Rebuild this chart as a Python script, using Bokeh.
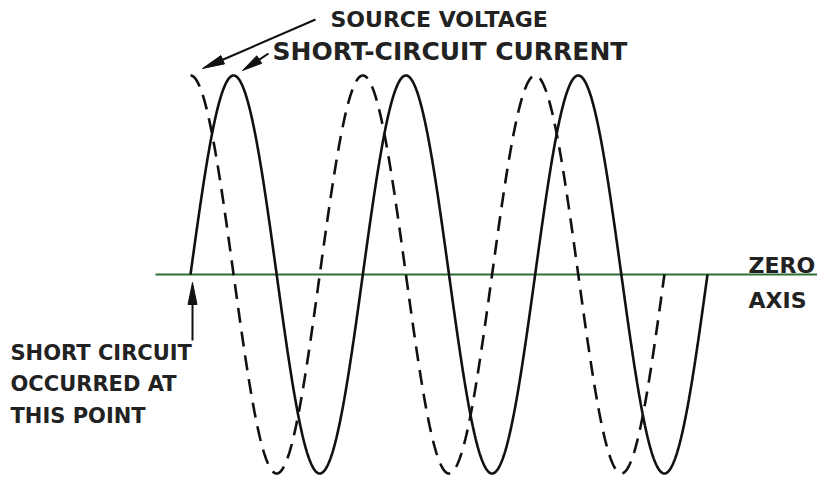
import numpy as np
from bokeh.plotting import figure
from bokeh.models import Range1d, Label
from bokeh.embed import file_html
from bokeh.resources import INLINE

# ---- data (schematic waveforms) ----
cycles_current = 3.0          # short-circuit current runs 3 full cycles
cycles_voltage = 2.75         # source voltage ends on its zero crossing
current_amplitude = 1.0
voltage_amplitude = 1.0
voltage_lead_deg = 90.0       # voltage leads current by a quarter cycle
labels_top = ["SOURCE  VOLTAGE", "SHORT-CIRCUIT  CURRENT"]
labels_axis = ["ZERO", "AXIS"]
labels_left = ["SHORT  CIRCUIT", "OCCURRED AT", "THIS  POINT"]

t_cur = np.linspace(0, 360 * cycles_current, 721)
i_cur = current_amplitude * np.sin(np.radians(t_cur))
t_vol = np.linspace(0, 360 * cycles_voltage, 661)
v_vol = voltage_amplitude * np.sin(np.radians(t_vol + voltage_lead_deg))

# ---- layout ----
W, H = 817, 475
K = 0.4787          # px per degree
A = 199.0           # px per unit amplitude
ZX, ZY = 190, 274   # pixel position of the short-circuit instant on the zero axis
x0 = -ZX / K
y_top = ZY / A

def X(px):
    return (px - ZX) / K

def Y(py):
    return (ZY - py) / A

p = figure(width=W, height=H, output_backend="svg", toolbar_location=None,
           x_range=Range1d(x0, x0 + W / K), y_range=Range1d(y_top - H / A, y_top),
           min_border=0, min_border_left=0, min_border_right=0,
           min_border_top=0, min_border_bottom=0)
p.axis.visible = False
p.grid.visible = False
p.outline_line_color = None
p.background_fill_color = "white"
p.border_fill_color = "white"

ink = "#111111"

# zero axis
p.segment(x0=[X(155)], y0=[0], x1=[X(840)], y1=[0], line_color="#2f6e35", line_width=2.2)

# waveforms
p.line(t_vol, v_vol, line_color=ink, line_width=2.6, line_dash="15 9")
p.line(t_cur, i_cur, line_color=ink, line_width=2.6)

def arrow(px0, py0, px1, py1, head_len=22, head_w=9):
    d = np.array([px1 - px0, py1 - py0], dtype=float)
    L = np.hypot(*d)
    u = d / L
    n = np.array([-u[1], u[0]])
    base = np.array([px1, py1]) - u * head_len
    p.line([X(px0), X(base[0])], [Y(py0), Y(base[1])], line_color=ink, line_width=2)
    pts = [np.array([px1, py1]), base + n * head_w / 2, base - n * head_w / 2]
    p.patch([X(q[0]) for q in pts], [Y(q[1]) for q in pts], fill_color=ink, line_color=ink)

arrow(315, 19, 202, 68)
arrow(268, 53, 242, 70, head_len=20, head_w=9)
arrow(192, 340, 192, 282, head_len=22, head_w=9)

font = "DejaVu Sans"

def lab(txt, px, py, size):
    p.add_layout(Label(x=X(px), y=Y(py), text=txt, text_font=font, text_font_size=f"{size}px",
                       text_font_style="bold", text_color="#222222",
                       text_baseline="middle", text_align="left"))

lab(labels_top[0], 330, 19, 22)
lab(labels_top[1], 272, 51, 25)
lab(labels_axis[0], 748, 265, 22)
lab(labels_axis[1], 748, 300, 22)
lab(labels_left[0], 10, 352, 21)
lab(labels_left[1], 10, 383, 21)
lab(labels_left[2], 10, 415, 21)

open("out.html", "w").write(file_html(p, INLINE))
